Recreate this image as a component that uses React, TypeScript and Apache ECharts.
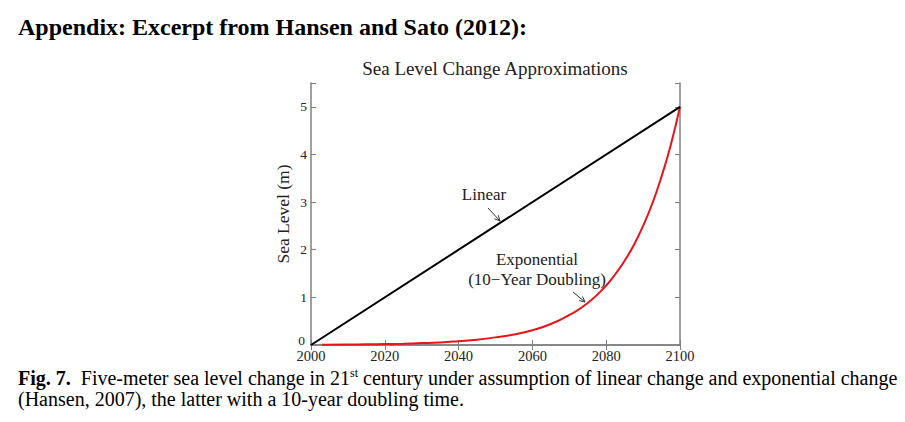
import React, { useEffect, useRef } from "react";
import * as echarts from "echarts";

const years = [2000, 2100];
const linearValues = [0, 5];
const expYears = [2003, 2010, 2015, 2020, 2025, 2030, 2035, 2040, 2045, 2050, 2055, 2060, 2065, 2070, 2075, 2080, 2082.5, 2085, 2087.5, 2090, 2092.5, 2095, 2097.5, 2100];
const expValues = [0.006, 0.01, 0.014, 0.02, 0.028, 0.04, 0.055, 0.08, 0.11, 0.16, 0.22, 0.31, 0.44, 0.63, 0.88, 1.25, 1.49, 1.77, 2.1, 2.5, 2.97, 3.54, 4.2, 5];
const xTicks = [2000, 2020, 2040, 2060, 2080, 2100];
const yTicks = [0, 1, 2, 3, 4, 5];

const SERIF = "'Liberation Serif', 'DejaVu Serif', serif";
const AX = "#808080";

export default function App() {
  const ref = useRef<HTMLDivElement>(null);
  useEffect(() => {
    if (!ref.current) return;
    const chart = echarts.init(ref.current, null, { renderer: "svg" });
    const axisCommon = {
      axisLine: { show: true, lineStyle: { color: AX, width: 1.5 } },
      axisTick: { show: true, inside: true, length: 5, lineStyle: { color: AX, width: 1 } },
      splitLine: { show: false },
    };
    const arrow = (x1: number, y1: number, x2: number, y2: number) => {
      const ang = Math.atan2(y2 - y1, x2 - x1);
      const L = 6;
      const a1 = ang + Math.PI - 0.45;
      const a2 = ang + Math.PI + 0.45;
      return [
        { type: "line", shape: { x1, y1, x2, y2 }, style: { stroke: "#333", lineWidth: 1 } },
        {
          type: "polyline",
          shape: {
            points: [
              [x2 + L * Math.cos(a1), y2 + L * Math.sin(a1)],
              [x2, y2],
              [x2 + L * Math.cos(a2), y2 + L * Math.sin(a2)],
            ],
          },
          style: { stroke: "#333", lineWidth: 1, fill: "none" },
        },
      ];
    };
    chart.setOption({
      animation: false,
      backgroundColor: "#fff",
      grid: { left: 311, right: 225, top: 83, bottom: 77 },
      xAxis: [
        {
          type: "value",
          min: 2000,
          max: 2100,
          interval: 20,
          ...axisCommon,
          axisLabel: {
            color: "#222",
            fontFamily: SERIF,
            fontSize: 14.5,
            margin: 3,
            formatter: (v: number) => (xTicks.includes(v) ? String(v) : ""),
          },
        },
        {
          type: "value",
          position: "top",
          min: 2000,
          max: 2100,
          interval: 20,
          ...axisCommon,
          axisLabel: { show: false },
        },
      ],
      yAxis: [
        {
          type: "value",
          min: 0,
          max: 5.5,
          interval: 1,
          ...axisCommon,
          name: "Sea Level (m)",
          nameLocation: "middle",
          nameGap: 19,
          nameTextStyle: { color: "#222", fontFamily: SERIF, fontSize: 17.5 },
          axisLabel: {
            color: "#222",
            fontFamily: SERIF,
            fontSize: 13.5,
            margin: 4,
            formatter: (v: number) => (yTicks.includes(v) && v !== 0 ? String(v) : ""),
          },
        },
        {
          type: "value",
          position: "right",
          min: 0,
          max: 5.5,
          interval: 1,
          ...axisCommon,
          axisLabel: { show: false },
        },
      ],
      series: [
        {
          type: "line",
          data: years.map((y, i) => [y, linearValues[i]]),
          showSymbol: false,
          lineStyle: { color: "#000", width: 2 },
          z: 3,
        },
        {
          type: "line",
          data: expYears.map((y, i) => [y, expValues[i]]),
          showSymbol: false,
          smooth: 0.5,
          lineStyle: { color: "#e8141a", width: 2 },
          z: 2,
        },
      ],
      graphic: [
        {
          type: "text",
          left: 18,
          top: 15,
          style: { text: "Appendix: Excerpt from Hansen and Sato (2012):", font: `bold 24px ${SERIF}`, fill: "#000" },
        },
        {
          type: "text",
          x: 495,
          y: 68,
          style: { text: "Sea Level Change Approximations", font: `19px ${SERIF}`, fill: "#222", align: "center", verticalAlign: "middle" },
        },
        {
          type: "text",
          x: 305,
          y: 340,
          style: { text: String(yTicks[0]), font: `13.5px ${SERIF}`, fill: "#222", align: "right", verticalAlign: "middle" },
        },
        {
          type: "text",
          x: 484,
          y: 194,
          style: { text: "Linear", font: `17px ${SERIF}`, fill: "#222", align: "center", verticalAlign: "middle" },
        },
        {
          type: "text",
          x: 537,
          y: 259,
          style: { text: "Exponential", font: `17px ${SERIF}`, fill: "#222", align: "center", verticalAlign: "middle" },
        },
        {
          type: "text",
          x: 537,
          y: 279,
          style: { text: "(10\u2212Year Doubling)", font: `17px ${SERIF}`, fill: "#222", align: "center", verticalAlign: "middle" },
        },
        ...arrow(488, 208, 500, 221),
        ...arrow(573, 292, 585, 302),
        {
          type: "text",
          x: 18,
          y: 367,
          style: {
            text:
              "{b|Fig. 7.}  Five-meter sea level change in 21{sup|st} century under assumption of linear change and exponential change\n(Hansen, 2007), the latter with a 10-year doubling time.",
            font: `20px ${SERIF}`,
            fill: "#000",
            lineHeight: 21,
            rich: {
              b: { font: `bold 20px ${SERIF}`, fill: "#000" },
              sup: { font: `12px ${SERIF}`, fill: "#000", verticalAlign: "top", padding: [0, 0, 7, 0] },
            },
          },
        },
      ],
    });
    return () => chart.dispose();
  }, []);
  return <div ref={ref} style={{ width: 905, height: 422, margin: -8 }} />;
}
